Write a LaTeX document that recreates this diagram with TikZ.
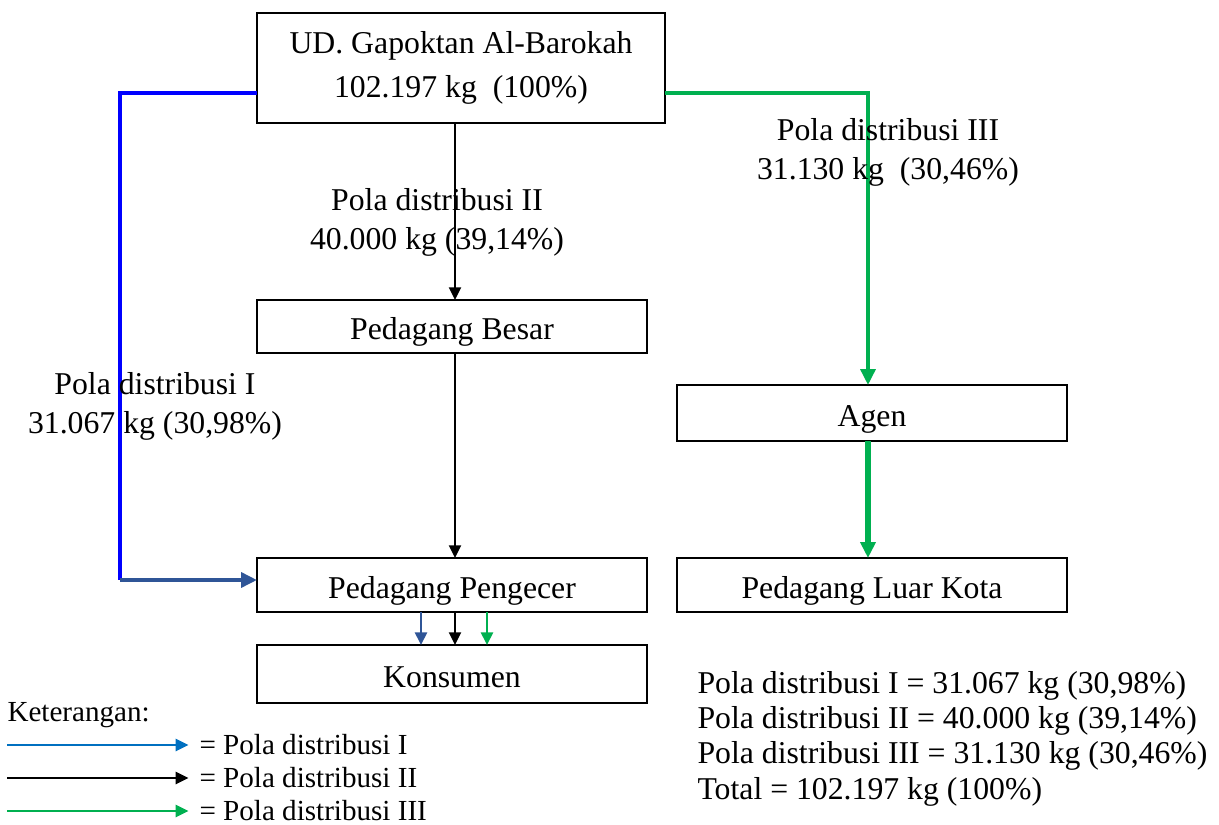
\documentclass[tikz,border=0pt]{standalone}
\usepackage{fontspec}
\setmainfont{Liberation Serif}
\usetikzlibrary{arrows.meta}
\definecolor{biruI}{HTML}{0000FF}
\definecolor{birutua}{HTML}{2F5597}
\definecolor{birumuda}{HTML}{0070C0}
\definecolor{hijauIII}{HTML}{00B050}
\begin{document}
\begin{tikzpicture}[x=0.378pt,y=-0.378pt,
    kotak/.style={draw,line width=0.75pt,inner sep=0pt,outer sep=0pt,minimum width=390*0.378pt,
      font=\fontsize{12}{14.5}\selectfont,align=center},
    satubaris/.style={text height=11.5pt,text depth=1.5pt},
    tip/.style={-{Triangle[length=6pt,width=5.6pt]}},
    tipkecil/.style={-{Triangle[length=4.8pt,width=4.6pt]}},
    garisI/.style={biruI,line width=1.4pt},
    garisIb/.style={birutua,line width=1.4pt,tip},
    garisII/.style={black,line width=0.6pt,tipkecil},
    garisIII/.style={hijauIII,line width=1.4pt,tip},
    garisIIIb/.style={hijauIII,line width=1.9pt,tip},
    label/.style={font=\fontsize{12}{14.7}\selectfont,align=center},
    ket/.style={font=\fontsize{11}{12}\selectfont}]
  \useasboundingbox (0,0) rectangle (1219,825);
  % kotak
  \node[kotak,minimum width=408*0.378pt,minimum height=110*0.378pt] (ud) at (461,68)
    {UD. Gapoktan Al-Barokah\\[2pt]102.197 kg~ (100\%)};
  \node[kotak,satubaris,minimum height=53*0.378pt] (besar) at (452,326.5) {Pedagang Besar};
  \node[kotak,satubaris,minimum height=54*0.378pt] (pengecer) at (452,585) {Pedagang Pengecer};
  \node[kotak,satubaris,minimum height=58*0.378pt] (konsumen) at (452,674) {Konsumen};
  \node[kotak,satubaris,minimum height=56*0.378pt] (agen) at (872,413) {Agen};
  \node[kotak,satubaris,minimum height=54*0.378pt] (luar) at (872,585) {Pedagang Luar Kota};
  % titik belok
  \coordinate (kiriatas) at (120,93);
  \coordinate (kiribawah) at (120,580);
  \coordinate (kananatas) at (868,93);
  \coordinate (tengah) at (455,0);
  % pola I
  \draw[garisI] (ud.west |- kiriatas) -- (kiriatas) -- (kiribawah);
  \draw[garisIb] (kiribawah) -- (pengecer.west |- kiribawah);
  % pola II
  \draw[garisII] (ud.south -| tengah) -- (besar.north -| tengah);
  \draw[garisII] (besar.south -| tengah) -- (pengecer.north -| tengah);
  % pola III
  \draw[garisIII] (ud.east |- kananatas) -- (kananatas) -- (agen.north -| kananatas);
  \draw[garisIIIb] (agen.south -| kananatas) -- (luar.north -| kananatas);
  % ke konsumen
  \coordinate (k1) at (421,0);
  \coordinate (k3) at (487,0);
  \draw[birutua,line width=0.8pt,tipkecil] (pengecer.south -| k1) -- (konsumen.north -| k1);
  \draw[garisII] (pengecer.south -| tengah) -- (konsumen.north -| tengah);
  \draw[hijauIII,line width=0.8pt,tipkecil] (pengecer.south -| k3) -- (konsumen.north -| k3);
  % label
  \node[label] (lblII) at (437,222) {Pola distribusi II\\40.000 kg (39,14\%)};
  \node[label] (lblIII) at (888,152) {Pola distribusi III\\31.130 kg~ (30,46\%)};
  \node[label] (lblI) at (155,406) {Pola distribusi I\\31.067 kg (30,98\%)};
  \node[anchor=north west,inner sep=0pt,align=left,font=\fontsize{12}{13.3}\selectfont] (total) at (697,671)
    {Pola distribusi I = 31.067 kg (30,98\%)\\
     Pola distribusi II = 40.000 kg (39,14\%)\\
     Pola distribusi III = 31.130 kg (30,46\%)\\
     Total = 102.197 kg (100\%)};
  % keterangan
  \node[ket,anchor=west,inner sep=0pt] (keterangan) at (7,715) {Keterangan:};
  \coordinate (a1) at (7,745);
  \coordinate (a2) at (7,778);
  \coordinate (a3) at (7,811);
  \node[ket,anchor=west,inner sep=0pt] (t1) at (199,745) {= Pola distribusi I};
  \node[ket,anchor=west,inner sep=0pt] (t2) at (199,778) {= Pola distribusi II};
  \node[ket,anchor=west,inner sep=0pt] (t3) at (199,811) {= Pola distribusi III};
  \draw[birumuda,line width=0.8pt,tipkecil] (a1) -- ([xshift=-4pt]t1.west);
  \draw[black,line width=0.8pt,tipkecil] (a2) -- ([xshift=-4pt]t2.west);
  \draw[hijauIII,line width=0.8pt,tipkecil] (a3) -- ([xshift=-4pt]t3.west);
\end{tikzpicture}
\end{document}
